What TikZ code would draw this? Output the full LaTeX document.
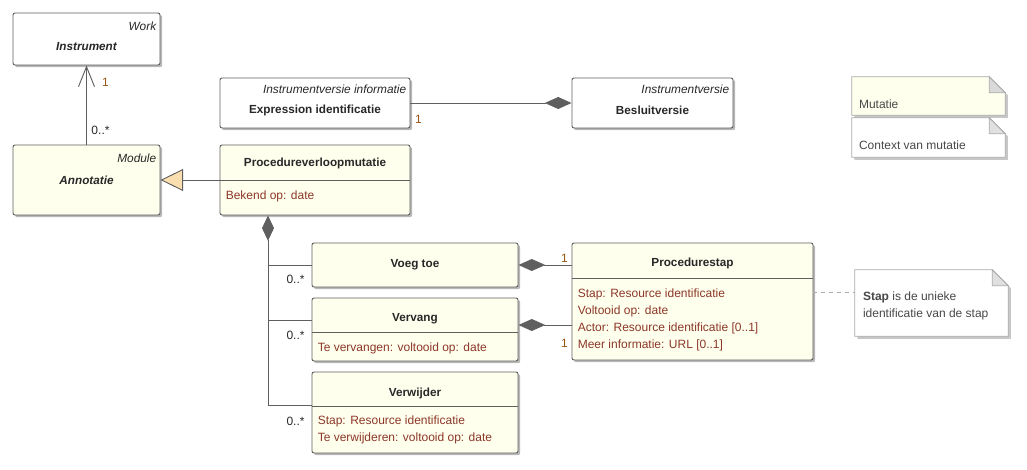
\documentclass[tikz,border=0pt]{standalone}
\usepackage{fontspec}
\setmainfont{Liberation Sans}
\usetikzlibrary{positioning, arrows.meta, fit, shadows, calc}
\definecolor{classfill}{RGB}{255, 255, 238}
\definecolor{classline}{RGB}{95, 95, 95}
\definecolor{attrred}{RGB}{140, 55, 40}
\definecolor{multbrown}{RGB}{150, 85, 20}
\definecolor{notegray}{RGB}{170, 170, 170}
\definecolor{genfill}{RGB}{250, 222, 175}
\definecolor{darktext}{RGB}{40, 40, 40}

\begin{document}
\begin{tikzpicture}[
    x=0.75pt, y=-0.75pt,
    font=\fontsize{9}{11}\selectfont,
    classbox/.style={
        rectangle,
        rounded corners=1.5pt,
        draw=classline,
        line width=0.7pt,
        fill=classfill,
        inner sep=0pt,
        drop shadow={shadow xshift=1.6pt, shadow yshift=-1.6pt, fill=black!28, opacity=1}
    },
    whitebox/.style={classbox, fill=white},
    classname/.style={font=\fontsize{8.8}{11}\selectfont\bfseries, text=darktext},
    abstractname/.style={font=\fontsize{8.8}{11}\selectfont\bfseries\itshape, text=darktext},
    stereo/.style={font=\fontsize{8.9}{11}\selectfont\itshape, text=darktext, anchor=east, inner sep=0pt},
    attr/.style={text=attrred, anchor=west, inner sep=0pt},
    mult/.style={text=multbrown, inner sep=0pt},
    multstar/.style={text=darktext, inner sep=0pt},
    sepline/.style={draw=classline, line width=0.7pt},
    assoc/.style={draw=classline, line width=0.7pt},
    navigable/.style={assoc, -{Straight Barb[length=15pt, width=12pt, line width=0.7pt]}},
    composition/.style={assoc, -{Diamond[length=20pt, width=9pt]}},
    generalization/.style={assoc, -{Triangle[open, length=17pt, width=16.5pt, fill=genfill]}},
    notebody/.style={rectangle, draw=none, inner sep=0pt},
    noteline/.style={draw=notegray, line width=0.6pt},
    notetext/.style={text=darktext!85, anchor=west, inner sep=0pt, font=\fontsize{9}{11}\selectfont},
    noteanchor/.style={draw=notegray, line width=0.6pt, dashed}
]
    \useasboundingbox (0,0) rectangle (1027,470);

    % --- Classes, top ---

    \node[whitebox, fit={(13,13) (160,65)}] (instr) {};
    \node[stereo] at ($(instr.north east)+(-4,14)$) {Work};
    \node[abstractname] at ($(instr.north)+(0,34)$) {Instrument};

    \node[whitebox, fit={(220,78) (410,128)}] (expr) {};
    \node[stereo] at ($(expr.north east)+(-4,12)$) {Instrumentversie informatie};
    \node[classname] at ($(expr.north)+(0,33)$) {Expression identificatie};

    \node[whitebox, fit={(572,78) (733,128)}] (besluit) {};
    \node[stereo] at ($(besluit.north east)+(-4,12)$) {Instrumentversie};
    \node[classname] at ($(besluit.north)+(0,33)$) {Besluitversie};

    \node[classbox, fit={(13,145) (160,215)}] (annot) {};
    \node[stereo] at ($(annot.north east)+(-4,14)$) {Module};
    \node[abstractname] at ($(annot.north)+(0,36)$) {Annotatie};

    \node[classbox, fit={(220,145) (410,215)}] (pvm) {};
    \node[classname] at ($(pvm.north)+(0,19)$) {Procedureverloopmutatie};
    \draw[sepline] ($(pvm.north west)+(0,36)$) -- ($(pvm.north east)+(0,36)$);
    \node[attr] at ($(pvm.north west)+(6,52)$) {Bekend op: date};

    % --- Classes, bottom ---

    \node[classbox, fit={(312,243) (518,287)}] (voegtoe) {};
    \node[classname] at ($(voegtoe.north)+(0,22)$) {Voeg toe};

    \node[classbox, fit={(312,298) (518,361)}] (vervang) {};
    \node[classname] at ($(vervang.north)+(0,21)$) {Vervang};
    \draw[sepline] ($(vervang.north west)+(0,35)$) -- ($(vervang.north east)+(0,35)$);
    \node[attr] at ($(vervang.north west)+(6,51)$) {Te vervangen: voltooid op: date};

    \node[classbox, fit={(312,372) (518,453)}] (verwijder) {};
    \node[classname] at ($(verwijder.north)+(0,22)$) {Verwijder};
    \draw[sepline] ($(verwijder.north west)+(0,35)$) -- ($(verwijder.north east)+(0,35)$);
    \node[attr] at ($(verwijder.north west)+(6,50)$) {Stap: Resource identificatie};
    \node[attr] at ($(verwijder.north west)+(6,67)$) {Te verwijderen: voltooid op: date};

    \node[classbox, fit={(572,243) (813,360)}] (stap) {};
    \node[classname] at ($(stap.north)+(0,21)$) {Procedurestap};
    \draw[sepline] ($(stap.north west)+(0,36)$) -- ($(stap.north east)+(0,36)$);
    \node[attr] at ($(stap.north west)+(6,52)$) {Stap: Resource identificatie};
    \node[attr] at ($(stap.north west)+(6,69)$) {Voltooid op: date};
    \node[attr] at ($(stap.north west)+(6,86)$) {Actor: Resource identificatie [0..1]};
    \node[attr] at ($(stap.north west)+(6,103)$) {Meer informatie: URL [0..1]};

    % --- Notes ---

    \node[notebody, fit={(852,77) (1005,115)}] (mutnote) {};
    \path[noteline, fill=classfill, drop shadow={shadow xshift=2pt, shadow yshift=-2pt, fill=black!22, opacity=1}]
        (mutnote.south west) -- (mutnote.north west) -- ($(mutnote.north east)+(-16,0)$)
        -- ($(mutnote.north east)+(0,16)$) -- (mutnote.south east) -- cycle;
    \draw[noteline, fill=black!15] ($(mutnote.north east)+(-16,0)$) -- ($(mutnote.north east)+(-16,16)$)
        -- ($(mutnote.north east)+(0,16)$) -- cycle;
    \node[notetext] at ($(mutnote.north west)+(7,27)$) {Mutatie};

    \node[notebody, fit={(852,118) (1005,157)}] (ctxnote) {};
    \path[noteline, fill=white, drop shadow={shadow xshift=2pt, shadow yshift=-2pt, fill=black!22, opacity=1}]
        (ctxnote.south west) -- (ctxnote.north west) -- ($(ctxnote.north east)+(-16,0)$)
        -- ($(ctxnote.north east)+(0,16)$) -- (ctxnote.south east) -- cycle;
    \draw[noteline, fill=black!12] ($(ctxnote.north east)+(-16,0)$) -- ($(ctxnote.north east)+(-16,16)$)
        -- ($(ctxnote.north east)+(0,16)$) -- cycle;
    \node[notetext] at ($(ctxnote.north west)+(7,27)$) {Context van mutatie};

    \node[notebody, fit={(855,270) (1008,336)}] (stapnote) {};
    \path[noteline, fill=white, drop shadow={shadow xshift=2pt, shadow yshift=-2pt, fill=black!22, opacity=1}]
        (stapnote.south west) -- (stapnote.north west) -- ($(stapnote.north east)+(-16,0)$)
        -- ($(stapnote.north east)+(0,16)$) -- (stapnote.south east) -- cycle;
    \draw[noteline, fill=black!12] ($(stapnote.north east)+(-16,0)$) -- ($(stapnote.north east)+(-16,16)$)
        -- ($(stapnote.north east)+(0,16)$) -- cycle;
    \node[notetext] at ($(stapnote.north west)+(8,28)$) {\textbf{Stap} is de unieke};
    \node[notetext] at ($(stapnote.north west)+(8,45)$) {identificatie van de stap};

    % --- Connectors ---

    \draw[navigable] (annot) -- (instr);
    \node[mult] at ($(instr.south)+(19,17)$) {1};
    \node[multstar] at ($(annot.north)+(14,-14)$) {0..*};

    \draw[composition] (expr) -- (besluit);
    \node[mult] at ($(expr.south east)+(8,-9)$) {1};

    \draw[generalization] (pvm) -- (annot);

    % compositie naar de drie mutatiesoorten
    \coordinate (trunk) at (268,405);
    \draw[assoc, {Diamond[length=19pt, width=9pt]}-] (pvm.south -| trunk) -- (trunk) -- (verwijder.west |- trunk);
    \draw[assoc] (voegtoe.west) -| (trunk);
    \draw[assoc] (vervang.west |- 0,320) -| (trunk);
    \node[multstar] at ($(voegtoe.west)+(-16,14)$) {0..*};
    \node[multstar] at ($(vervang.west |- 0,320)+(-16,15)$) {0..*};
    \node[multstar] at ($(verwijder.west |- trunk)+(-16,16)$) {0..*};

    \draw[composition] (stap.west |- voegtoe.east) -- (voegtoe.east);
    \draw[composition] (stap.west |- 0,325) -- (vervang.east |- 0,325);
    \node[mult] at ($(stap.west |- voegtoe.east)+(-7,-7)$) {1};
    \node[mult] at ($(stap.west |- 0,325)+(-7,18)$) {1};

    \draw[noteanchor] (stap.east |- 0,292) -- (stapnote.west |- 0,292);

\end{tikzpicture}
\end{document}
